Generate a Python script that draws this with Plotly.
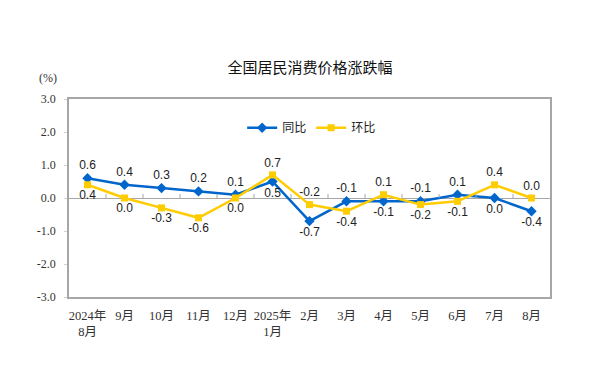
import plotly.graph_objects as go

categories = ["2024年<br>8月", "9月", "10月", "11月", "12月", "2025年<br>1月",
              "2月", "3月", "4月", "5月", "6月", "7月", "8月"]
yoy = [0.6, 0.4, 0.3, 0.2, 0.1, 0.5, -0.7, -0.1, -0.1, -0.1, 0.1, 0.0, -0.4]
mom = [0.4, 0.0, -0.3, -0.6, 0.0, 0.7, -0.2, -0.4, 0.1, -0.2, -0.1, 0.4, 0.0]
yticks = [3.0, 2.0, 1.0, 0.0, -1.0, -2.0, -3.0]

BLUE = "#0066CC"
YELLOW = "#FFCC00"
xs = list(range(len(categories)))

def positions(a, b):
    return ["top center" if va >= vb else "bottom center" for va, vb in zip(a, b)]

fig = go.Figure()
fig.add_trace(go.Scatter(
    x=xs, y=yoy, name="同比", mode="lines+markers+text",
    line=dict(color=BLUE, width=2.5),
    marker=dict(symbol="diamond", size=8, color=BLUE),
    text=[f"{v:.1f}" for v in yoy], textposition=positions(yoy, mom),
    textfont=dict(family="Liberation Sans, Arial", size=12, color="#222"),
))
fig.add_trace(go.Scatter(
    x=xs, y=mom, name="环比", mode="lines+markers+text",
    line=dict(color=YELLOW, width=2.5),
    marker=dict(symbol="square", size=7, color=YELLOW),
    text=[f"{v:.1f}" for v in mom], textposition=positions(mom, yoy),
    textfont=dict(family="Liberation Sans, Arial", size=12, color="#222"),
))

# small tick marks on the zero line at category boundaries
for i in range(len(categories) - 1):
    fig.add_shape(type="line", xref="x", yref="y", x0=i + 0.5, x1=i + 0.5,
                  y0=0, y1=0.12, line=dict(color="#A6A6A6", width=1))

fig.update_layout(
    width=600, height=366,
    margin=dict(l=61, r=58, t=91, b=77),
    paper_bgcolor="white", plot_bgcolor="white",
    title=dict(text="全国居民消费价格涨跌幅", x=(310 - 8) / 600, xanchor="center",
               y=1 - 60 / 366, yanchor="middle",
               font=dict(family="Noto Sans CJK SC", size=15, color="#111")),
    showlegend=True,
    legend=dict(orientation="h", x=0.36, y=0.855, xanchor="left", yanchor="middle",
                bgcolor="rgba(0,0,0,0)", font=dict(family="Noto Sans CJK SC", size=12, color="#222"),
                itemwidth=30, tracegroupgap=0),
    annotations=[dict(text="(%)", xref="paper", yref="paper", x=-0.02, y=1.105,
                      xanchor="right", yanchor="middle", showarrow=False,
                      font=dict(family="Liberation Serif", size=12, color="#333"))],
)
fig.update_xaxes(
    tickmode="array", tickvals=xs, ticktext=categories, range=[-0.5, 12.5],
    showgrid=False, zeroline=False, showline=True, linecolor="#A6A6A6", linewidth=1.5,
    mirror=True, ticks="", ticklabelstandoff=6,
    tickfont=dict(family="Liberation Serif, Noto Sans CJK SC", size=12.5, color="#333"),
)
fig.update_yaxes(
    range=[-3, 3], tickmode="array", tickvals=yticks,
    ticktext=[f"{v:.1f}" for v in yticks],
    showgrid=False, zeroline=True, zerolinecolor="#A6A6A6", zerolinewidth=1,
    showline=True, linecolor="#A6A6A6", linewidth=1.5, mirror=True,
    ticks="outside", ticklen=3, tickcolor="#D0D0D0", ticklabelstandoff=6,
    tickfont=dict(family="Liberation Serif", size=12, color="#333"),
)

fig.write_html("out.html")
